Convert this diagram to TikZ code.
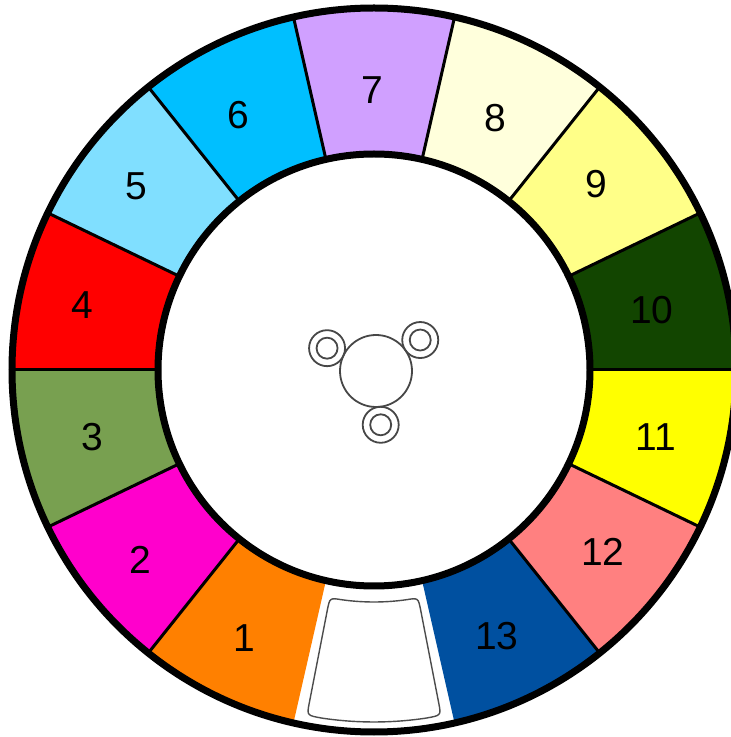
\documentclass[tikz,border=0pt]{standalone}
\usepackage{fontspec}
\setmainfont{Liberation Sans}
\begin{document}
\begin{tikzpicture}[x=1pt,y=1pt,
  segnum/.style={font=\fontsize{39}{40}\selectfont, text=black, inner sep=0pt},
  thick ring/.style={line width=7pt, draw=black},
  divider/.style={line width=3pt, draw=black},
  symline/.style={line width=1.8pt, draw=black!72},
  slotline/.style={line width=1.4pt, draw=black!70}]
\definecolor{c1}{HTML}{FF8000}
\definecolor{c2}{HTML}{FF00CC}
\definecolor{c3}{HTML}{78A050}
\definecolor{c4}{HTML}{FF0000}
\definecolor{c5}{HTML}{80DFFF}
\definecolor{c6}{HTML}{00BFFF}
\definecolor{c7}{HTML}{D0A0FF}
\definecolor{c8}{HTML}{FFFFDC}
\definecolor{c9}{HTML}{FFFF88}
\definecolor{c10}{HTML}{124500}
\definecolor{c11}{HTML}{FFFF00}
\definecolor{c12}{HTML}{FF8080}
\definecolor{c13}{HTML}{0050A0}
\useasboundingbox (0,0) rectangle (731,737);
\clip (0,0) rectangle (731,737);
\fill[white] (0,0) rectangle (731,737);
\coordinate (C) at (374,367);
\begin{scope}[shift={(C)}]
  % coloured segments
  \foreach \k/\col in {1/c1,2/c2,3/c3,4/c4,5/c5,6/c6,7/c7,8/c8,9/c9,10/c10,11/c11,12/c12,13/c13}{
    \pgfmathsetmacro\mid{270-360/14*\k}
    \pgfmathsetmacro\aa{\mid-180/14}
    \pgfmathsetmacro\ab{\mid+180/14}
    \fill[\col] (\aa:216) arc[start angle=\aa, end angle=\ab, radius=216]
      -- (\ab:362) arc[start angle=\ab, end angle=\aa, radius=362] -- cycle;
  }
  % dividers between coloured segments
  \foreach \k in {1,...,12}{
    \pgfmathsetmacro\b{270-360/14*\k-180/14}
    \coordinate (di\k) at (\b:214);
    \coordinate (do\k) at (\b:364);
    \draw[divider] (di\k) -- (do\k);
  }
  % outer and inner rings
  \draw[thick ring] (0,0) circle[radius=362];
  \draw[thick ring] (0,0) circle[radius=216];
  % empty slot outline
  \draw[slotline]
    (262:232) arc[start angle=262, end angle=278, radius=232]
    .. controls (281:232) .. (281:245)
    -- (281:340)
    .. controls (281:352) .. (278.3:352)
    arc[start angle=278.3, end angle=261.7, radius=352]
    .. controls (259:352) .. (259:340)
    -- (259:245)
    .. controls (259:232) .. cycle;
\end{scope}
% segment numbers (positions as in the reference)
\foreach \k/\px/\py in {1/244/638,2/140/560,3/92/437,4/82/305,5/136/186,6/238/115,7/372/90,8/495/118,9/596/184,10/652/310,11/656/437,12/603/552,13/497/636}{
  \node[segnum] (n\k) at (\px,737-\py) {\k};
}
% centre symbol
\coordinate (S) at (376,366);
\begin{scope}[shift={(S)}]
  \draw[symline] (0,0) circle[radius=36];
  \foreach \ang/\nm in {155/a,35/b,-85/c}{
    \coordinate (r\nm) at (\ang:54);
    \draw[symline] (r\nm) circle[radius=18];
    \draw[symline] (r\nm) circle[radius=10.5];
  }
\end{scope}
\end{tikzpicture}
\end{document}
